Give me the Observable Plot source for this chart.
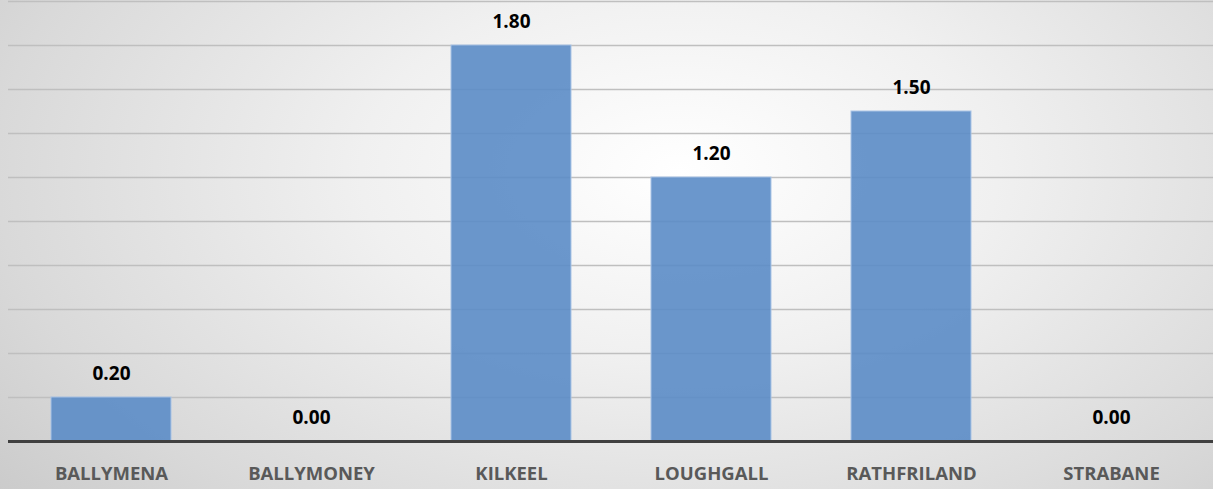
<!DOCTYPE html>
<html><head><meta charset="utf-8">
<script src="https://cdn.jsdelivr.net/npm/d3@7"></script>
<script src="https://cdn.jsdelivr.net/npm/@observablehq/plot@0.6"></script>
<style>
html,body{margin:0;padding:0;}
body{width:1213px;height:489px;overflow:hidden;}
#chart{width:1213px;height:489px;background:radial-gradient(ellipse 75% 110% at 56% 35%, #ffffff 0%, #f0f0f0 35%, #d9d9d9 75%, #c8c8c8 100%);}
</style></head>
<body><div id="chart"></div>
<script>
const categories = ["BALLYMENA","BALLYMONEY","KILKEEL","LOUGHGALL","RATHFRILAND","STRABANE"];
const values = [0.20, 0.00, 1.80, 1.20, 1.50, 0.00];
const gridTicks = [0.2,0.4,0.6,0.8,1.0,1.2,1.4,1.6,1.8,2.0];
const data = categories.map((c,i)=>({cat:c, v:values[i]}));
const font = "'Open Sans', Calibri, sans-serif";
const chart = Plot.plot({
  width:1213, height:489,
  marginLeft:8, marginRight:0, marginTop:1, marginBottom:48,
  style:{background:"transparent", fontFamily:font},
  x:{domain:categories, paddingInner:0.4, paddingOuter:0.2, align:0.5, label:null},
  y:{domain:[0,2], axis:null},
  marks:[
    Plot.ruleY(gridTicks, {stroke:"#bfbfbf", strokeWidth:1.5}),
    Plot.barY(data, {x:"cat", y:"v", fill:"#5b8cc6", fillOpacity:0.9, stroke:"#a9c4e6", strokeWidth:1}),
    Plot.ruleY([0], {stroke:"#404040", strokeWidth:3}),
    Plot.text(data, {x:"cat", y:"v", text:d=>d.v.toFixed(2), dy:-24, fontSize:19, fontWeight:"bold", fill:"#000"}),
    Plot.axisX({tickSize:0, tickPadding:25, fontSize:18.5, fontWeight:"bold", fill:"#595959", label:null})
  ]
});
document.getElementById("chart").appendChild(chart);
</script></body></html>
